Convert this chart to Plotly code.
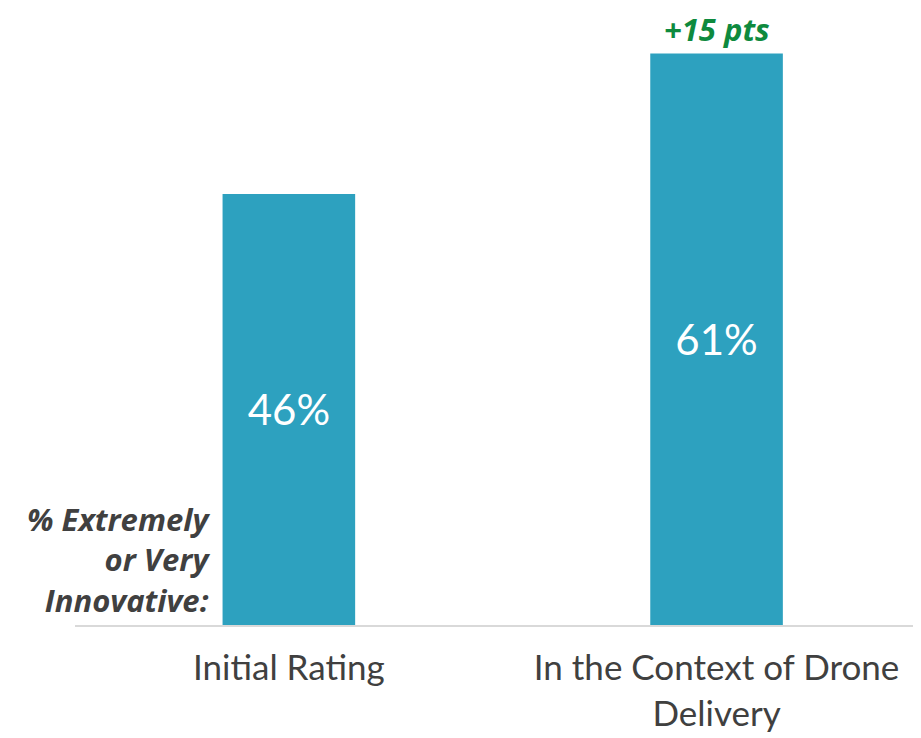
import plotly.graph_objects as go

categories = ["Initial Rating", "In the Context of Drone<br>Delivery"]
values = [46, 61]
value_labels = ["46%", "61%"]
change_label = "+15 pts"
side_label = "% Extremely<br>or Very<br>Innovative:"

bar_color = "#2DA1BF"
text_gray = "#404040"

fig = go.Figure()
fig.add_trace(go.Bar(
    x=categories, y=values, text=value_labels,
    textposition="inside", insidetextanchor="middle",
    textfont=dict(family="Lato", size=42, color="white"),
    marker=dict(color=bar_color, line=dict(width=0)),
    width=0.31, hoverinfo="skip",
))

fig.add_annotation(x=categories[1], y=values[1], text="<b><i>" + change_label + "</i></b>",
                   showarrow=False, yanchor="bottom", yshift=1,
                   font=dict(family="Open Sans", size=31, color="#0E8A3E"))

fig.add_annotation(xref="paper", yref="paper", x=0.162, y=0.0, yshift=2,
                   text="<b><i>" + side_label + "</i></b>",
                   showarrow=False, xanchor="right", yanchor="bottom", align="right",
                   font=dict(family="Open Sans", size=31, color=text_gray))

fig.update_layout(
    width=913, height=730,
    margin=dict(l=66.5, r=0, t=0, b=113, autoexpand=False),
    plot_bgcolor="white", paper_bgcolor="white",
    showlegend=False,
    xaxis=dict(range=[-0.5, 1.478], showline=True, linecolor="#D9D9D9", linewidth=2,
               tickfont=dict(family="Lato", size=35, color=text_gray), ticks="",
               ticklabelstandoff=11, showgrid=False, automargin=False),
    yaxis=dict(range=[0, 65.85], visible=False, showgrid=False, zeroline=False,
               automargin=False),
)

fig.write_html("out.html")
